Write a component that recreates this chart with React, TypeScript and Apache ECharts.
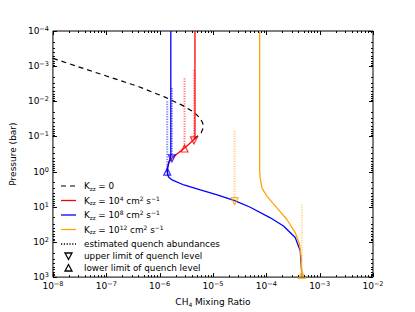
import React, { useEffect, useRef } from 'react';
import * as echarts from 'echarts';

// ---------- axis ranges / ticks ----------
const X_MIN = 1e-8;
const X_MAX = 1e-2;
const Y_MIN = 1e-4;
const Y_MAX = 1e3;
const xDecades = [-8, -7, -6, -5, -4, -3, -2];
const yDecades = [-4, -3, -2, -1, 0, 1, 2, 3];
const minorMultipliers = [2, 3, 4, 5, 6, 7, 8, 9];

// ---------- data: [CH4 mixing ratio, pressure (bar)] ----------
const kzz0X = [1.0e-8, 1.0e-7, 4.0e-7, 1.26e-6, 2.8e-6, 4.5e-6, 5.75e-6, 6.45e-6, 6.6e-6, 6.0e-6, 5.0e-6, 4.4e-6];
const kzz0P = [6.0e-4, 1.9e-3, 3.8e-3, 7.6e-3, 1.35e-2, 2.1e-2, 3.0e-2, 4.2e-2, 5.6e-2, 7.9e-2, 0.102, 0.12];

const kzz4X = [4.6e-6, 4.6e-6, 4.3e-6, 3.5e-6, 2.85e-6, 2.2e-6, 1.72e-6, 1.5e-6, 1.41e-6, 1.39e-6, 1.43e-6];
const kzz4P = [1e-4, 0.115, 0.125, 0.17, 0.22, 0.30, 0.40, 0.55, 0.78, 1.0, 1.3];

const kzz8X = [1.62e-6, 1.62e-6, 1.55e-6, 1.47e-6, 1.41e-6, 1.39e-6, 1.43e-6, 1.52e-6, 1.75e-6, 2.85e-6, 5.8e-6, 1.2e-5, 2.55e-5, 5.0e-5, 1.19e-4, 2.1e-4, 3.48e-4, 4.32e-4, 4.5e-4, 4.65e-4];
const kzz8P = [1e-4, 0.35, 0.45, 0.58, 0.78, 1.0, 1.3, 1.5, 1.75, 2.4, 3.3, 4.55, 6.7, 10.3, 20.6, 35.2, 75, 178, 423, 1000];

const kzz12X = [7.5e-5, 7.5e-5, 7.7e-5, 8.3e-5, 1.03e-4, 1.58e-4, 2.43e-4, 3.48e-4, 4.2e-4, 4.5e-4, 4.65e-4];
const kzz12P = [1e-4, 1.0, 1.55, 2.95, 5.05, 10.7, 23, 54, 116, 275, 1000];

// quench estimates, order: Kzz = 1e4, 1e8, 1e12
const seriesColors = ['#ff0000', '#0000ff', '#ffa500'];
const quenchUpperX = [4.4e-6, 1.7e-6, 2.55e-5];
const quenchUpperP = [0.129, 0.42, 6.9];
const quenchUpperTopP = [1.3e-3, 4.2e-3, 6.9e-2];
const quenchLowerX = [2.93e-6, 1.39e-6, 4.65e-4];
const quenchLowerP = [0.22, 1.0, 870];
const quenchLowerTopP = [2.2e-3, 1.0e-2, 8.7];

const legendLabels = [
  'K{sub|zz} = 0',
  'K{sub|zz} = 10{sup|4} cm{sup|2} s{sup|−1}',
  'K{sub|zz} = 10{sup|8} cm{sup|2} s{sup|−1}',
  'K{sub|zz} = 10{sup|12} cm{sup|2} s{sup|−1}',
  'estimated quench abundances',
  'upper limit of quench level',
  'lower limit of quench level',
];

const FONT = 'DejaVu Sans';

const zip = (xs: number[], ps: number[]) => xs.map((x, i) => [x, ps[i]]);

const expLabel = (v: number) => {
  const e = Math.round(Math.log10(v));
  return '10{sup|' + (e < 0 ? '−' + -e : String(e)) + '}';
};

export default function App() {
  const ref = useRef<HTMLDivElement>(null);
  useEffect(() => {
    if (!ref.current) return;
    const chart = echarts.init(ref.current, undefined, { renderer: 'svg' });

    // tick data
    const tickData: number[][] = [];
    xDecades.forEach((d) => {
      tickData.push([Math.pow(10, d), 1, 0]);
      if (d < -2) minorMultipliers.forEach((m) => tickData.push([m * Math.pow(10, d), 1, 1]));
    });
    yDecades.forEach((d) => {
      tickData.push([1e-5, Math.pow(10, d), 2]);
      if (d < 3) minorMultipliers.forEach((m) => tickData.push([1e-5, m * Math.pow(10, d), 3]));
    });

    const lineSeries = (name: string, data: number[][], color: string, extra: any = {}) => ({
      type: 'line',
      name,
      data,
      showSymbol: false,
      symbol: 'none',
      smooth: false,
      lineStyle: { color, width: 1.3, ...extra },
      z: 3,
    });

    const dottedSeries: any[] = [];
    seriesColors.forEach((c, i) => {
      dottedSeries.push({
        type: 'line',
        data: [[quenchUpperX[i], quenchUpperTopP[i]], [quenchUpperX[i], quenchUpperP[i]]],
        showSymbol: false,
        symbol: 'none',
        lineStyle: { color: c, width: 2, type: [1.2, 1.3], opacity: 0.5 },
        z: 4,
      });
      dottedSeries.push({
        type: 'line',
        data: [[quenchLowerX[i], quenchLowerTopP[i]], [quenchLowerX[i], quenchLowerP[i]]],
        showSymbol: false,
        symbol: 'none',
        lineStyle: { color: c, width: 2, type: [1.2, 1.3], opacity: 0.5 },
        z: 4,
      });
    });

    const rowY = [186, 200.5, 215, 229.5, 244, 256, 268];
    const richLegend = {
      sub: { fontSize: 5.5, lineHeight: 6, verticalAlign: 'bottom', fill: '#000', color: '#000', fontFamily: FONT },
      sup: { fontSize: 6, lineHeight: 6, verticalAlign: 'top', fill: '#000', color: '#000', fontFamily: FONT },
    };
    const legendGraphics: any[] = [];
    const sx1 = 61;
    const sx2 = 76;
    const sampleStyles = [
      { stroke: '#000', lineWidth: 1.2, lineDash: [5, 4] },
      { stroke: seriesColors[0], lineWidth: 1.3 },
      { stroke: seriesColors[1], lineWidth: 1.3 },
      { stroke: seriesColors[2], lineWidth: 1.3 },
      { stroke: '#000', lineWidth: 1.5, lineDash: [1.2, 1.6] },
    ];
    sampleStyles.forEach((st, i) => {
      legendGraphics.push({
        type: 'line',
        shape: { x1: sx1, y1: rowY[i], x2: sx2, y2: rowY[i] },
        style: st,
      });
    });
    const tx = 68.5;
    legendGraphics.push({
      type: 'polygon',
      shape: { points: [[tx - 3.5, rowY[5] - 3], [tx + 3.5, rowY[5] - 3], [tx, rowY[5] + 3.5]] },
      style: { fill: 'none', stroke: '#000', lineWidth: 1.3 },
    });
    legendGraphics.push({
      type: 'polygon',
      shape: { points: [[tx - 3.5, rowY[6] + 3], [tx + 3.5, rowY[6] + 3], [tx, rowY[6] - 3.5]] },
      style: { fill: 'none', stroke: '#000', lineWidth: 1.3 },
    });
    legendLabels.forEach((t, i) => {
      legendGraphics.push({
        type: 'text',
        style: {
          x: 84,
          y: rowY[i],
          text: t,
          fill: '#000',
          fontSize: 8.8,
          fontFamily: FONT,
          lineHeight: 11,
          verticalAlign: 'middle',
          align: 'left',
          rich: richLegend,
        },
      });
    });

    const axisRich = {
      sup: { fontSize: 6.5, lineHeight: 7, verticalAlign: 'top', color: '#000', fontFamily: FONT },
    };

    chart.setOption({
      animation: false,
      backgroundColor: '#fff',
      grid: {
        left: 52,
        right: 42,
        top: 31,
        bottom: 32,
        show: true,
        borderColor: '#000',
        borderWidth: 1,
        backgroundColor: 'transparent',
      },
      xAxis: {
        type: 'log',
        logBase: 10,
        min: X_MIN,
        max: X_MAX,
        splitNumber: 6,
        axisLine: { show: false },
        axisTick: { show: false },
        splitLine: { show: false },
        axisLabel: {
          formatter: expLabel,
          fontSize: 9,
          fontFamily: FONT,
          color: '#000',
          margin: 3,
          lineHeight: 11,
          rich: axisRich,
        },
        name: 'CH{sub|4} Mixing Ratio',
        nameLocation: 'middle',
        nameGap: 15,
        nameTextStyle: {
          fontSize: 9,
          fontFamily: FONT,
          color: '#000',
          lineHeight: 11,
          rich: { sub: { fontSize: 6, lineHeight: 6, verticalAlign: 'bottom', color: '#000', fontFamily: FONT } },
        },
      },
      yAxis: {
        type: 'log',
        logBase: 10,
        min: Y_MIN,
        max: Y_MAX,
        inverse: true,
        splitNumber: 7,
        axisLine: { show: false },
        axisTick: { show: false },
        splitLine: { show: false },
        axisLabel: {
          formatter: expLabel,
          fontSize: 9,
          fontFamily: FONT,
          color: '#000',
          margin: 4,
          lineHeight: 11,
          rich: axisRich,
        },
        name: 'Pressure (bar)',
        nameLocation: 'middle',
        nameGap: 26,
        nameRotate: 90,
        nameTextStyle: { fontSize: 9, fontFamily: FONT, color: '#000' },
      },
      graphic: legendGraphics,
      series: [
        lineSeries('Kzz = 0', zip(kzz0X, kzz0P), '#000', { type: [5, 4], width: 1.2 }),
        lineSeries('Kzz = 1e4', zip(kzz4X, kzz4P), seriesColors[0]),
        lineSeries('Kzz = 1e8', zip(kzz8X, kzz8P), seriesColors[1]),
        lineSeries('Kzz = 1e12', zip(kzz12X, kzz12P), seriesColors[2]),
        ...dottedSeries,
        {
          type: 'scatter',
          symbol: 'triangle',
          symbolRotate: 180,
          symbolSize: 7,
          z: 5,
          data: quenchUpperX.map((x, i) => ({
            value: [x, quenchUpperP[i]],
            itemStyle: { color: 'rgba(0,0,0,0)', borderColor: seriesColors[i], borderWidth: 1.2 },
          })),
        },
        {
          type: 'scatter',
          symbol: 'triangle',
          symbolSize: 7,
          z: 5,
          data: quenchLowerX.map((x, i) => ({
            value: [x, quenchLowerP[i]],
            itemStyle: { color: 'rgba(0,0,0,0)', borderColor: seriesColors[i], borderWidth: 1.2 },
          })),
        },
        {
          type: 'custom',
          clip: false,
          silent: true,
          z: 6,
          data: tickData,
          renderItem: (params: any, api: any) => {
            const cs = params.coordSys;
            const kind = api.value(2);
            const len = kind % 2 === 0 ? 4 : 2;
            const style = { stroke: '#000', lineWidth: 1 };
            if (kind < 2) {
              const px = Math.round(api.coord([api.value(0), 1])[0]) + 0.5;
              const yb = cs.y + cs.height;
              return {
                type: 'group',
                children: [
                  { type: 'line', shape: { x1: px, y1: yb, x2: px, y2: yb - len }, style },
                  { type: 'line', shape: { x1: px, y1: cs.y, x2: px, y2: cs.y + len }, style },
                ],
              };
            }
            const py = Math.round(api.coord([1e-5, api.value(1)])[1]) + 0.5;
            const xr = cs.x + cs.width;
            return {
              type: 'group',
              children: [
                { type: 'line', shape: { x1: cs.x, y1: py, x2: cs.x + len, y2: py }, style },
                { type: 'line', shape: { x1: xr, y1: py, x2: xr - len, y2: py }, style },
              ],
            };
          },
        },
      ],
    });
    return () => chart.dispose();
  }, []);
  return <div ref={ref} style={{ position: 'fixed', left: 0, top: 0, width: 415, height: 312 }} />;
}
